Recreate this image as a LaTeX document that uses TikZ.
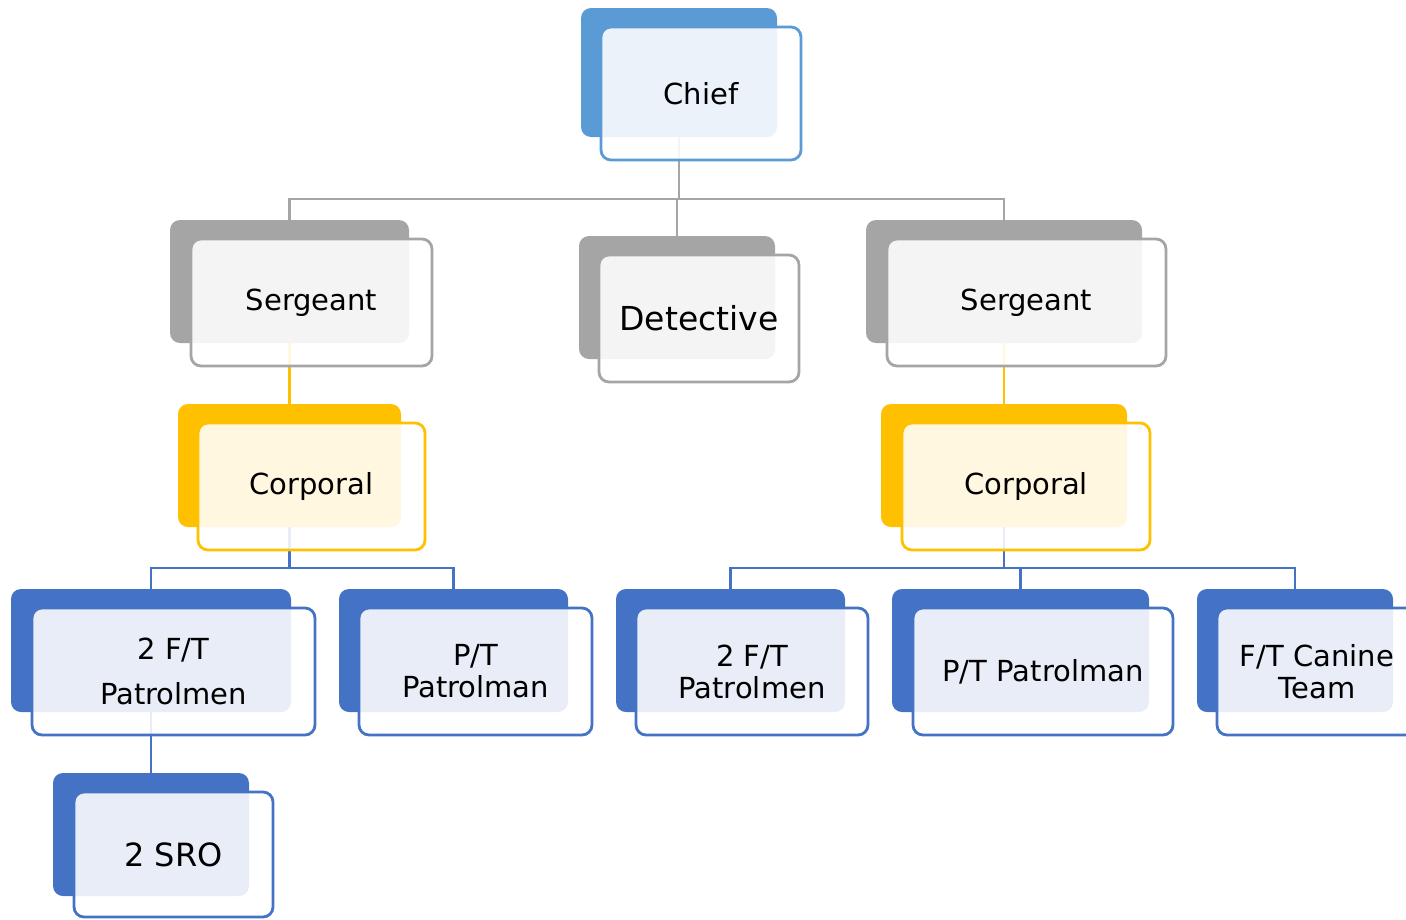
\documentclass[tikz,border=0pt]{standalone}
\usepackage{fontspec}
\setmainfont{DejaVu Sans}
\usetikzlibrary{backgrounds}
\definecolor{chiefblue}{HTML}{5B9BD5}
\definecolor{rankgray}{HTML}{A5A5A5}
\definecolor{rankgold}{HTML}{FFC000}
\definecolor{rankblue}{HTML}{4472C4}
\tikzset{
  rankback/.style={rounded corners=10pt, fill=#1, draw=none, inner sep=0pt},
  rankfront/.style={rounded corners=10pt, draw=#1, line width=2.8pt, fill=white,
    fill opacity=0.88, text opacity=1, inner sep=0pt, align=center,
    font=\fontsize{29}{32}\selectfont},
  link/.style={draw=#1, line width=2.8pt},
}

\begin{document}
\begin{tikzpicture}[x=1pt, y=-1pt]
      \useasboundingbox (0,0) rectangle (1406,919);
      % Chief
      \node[rankback=chiefblue, minimum width=196, minimum height=129] (chiefB) at (679,72.5) {};
      \node[rankfront=chiefblue, minimum width=200, minimum height=133] (chief) at (701,93.5) {Chief};
      % Sergeants and detective
      \node[rankback=rankgray, minimum width=239, minimum height=123] (serLB) at (289.5,281.5) {};
      \node[rankfront=rankgray, minimum width=241, minimum height=127] (serL) at (311.5,302.5) {Sergeant};
      \node[rankback=rankgray, minimum width=196, minimum height=123] (detB) at (677,297.5) {};
      \node[rankfront=rankgray, minimum width=200, minimum height=127, font=\fontsize{33}{36}\selectfont] (det) at (699,318.5) {Detective};
      \node[rankback=rankgray, minimum width=276, minimum height=123] (serRB) at (1004,281.5) {};
      \node[rankfront=rankgray, minimum width=279, minimum height=127] (serR) at (1026.5,302.5) {Sergeant};
      % Corporals
      \node[rankback=rankgold, minimum width=223, minimum height=123] (corLB) at (289.5,465.5) {};
      \node[rankfront=rankgold, minimum width=227, minimum height=127] (corL) at (311.5,486.5) {Corporal};
      \node[rankback=rankgold, minimum width=246, minimum height=123] (corRB) at (1004,465.5) {};
      \node[rankfront=rankgold, minimum width=248, minimum height=127] (corR) at (1026,486.5) {Corporal};
      % Patrol row
      \node[rankback=rankblue, minimum width=280, minimum height=123] (ftLB) at (151,650.5) {};
      \node[rankfront=rankblue, minimum width=283, minimum height=127] (ftL) at (173.5,671.5) {2 F/T\\[13pt]Patrolmen};
      \node[rankback=rankblue, minimum width=229, minimum height=123] (ptLB) at (453.5,650.5) {};
      \node[rankfront=rankblue, minimum width=233, minimum height=127] (ptL) at (475.5,671.5) {P/T\\Patrolman};
      \node[rankback=rankblue, minimum width=229, minimum height=123] (ftRB) at (730.5,650.5) {};
      \node[rankfront=rankblue, minimum width=232, minimum height=127] (ftR) at (752,671.5) {2 F/T\\Patrolmen};
      \node[rankback=rankblue, minimum width=257, minimum height=123] (ptRB) at (1020.5,650.5) {};
      \node[rankfront=rankblue, minimum width=260, minimum height=127] (ptR) at (1043,671.5) {P/T Patrolman};
      \node[rankback=rankblue, minimum width=196, minimum height=123] (canB) at (1295,650.5) {};
      \node[rankfront=rankblue, minimum width=200, minimum height=127] (can) at (1317,671.5) {F/T Canine\\Team};
      % School resource officers
      \node[rankback=rankblue, minimum width=196, minimum height=123] (sroB) at (151,834.5) {};
      \node[rankfront=rankblue, minimum width=199, minimum height=125, font=\fontsize{32}{36}\selectfont] (sro) at (173.5,854.5) {2 SRO};
      % Connectors (under the boxes)
      \coordinate (gbus) at (0,199);
      \coordinate (bbus) at (0,568);
      \begin{pgfonlayer}{background}
        \draw[link=rankgray] (chiefB.south) -- (chiefB.south |- gbus) -| (serLB.north);
        \draw[link=rankgray] (chiefB.south |- gbus) -| (serRB.north);
        \draw[link=rankgray] (detB.north |- gbus) -- (detB.north);
        \draw[link=rankgold] (serLB.south) -- (corLB.north);
        \draw[link=rankgold] (serRB.south) -- (corRB.north);
        \draw[link=rankblue] (corLB.south) -- (corLB.south |- bbus) -| (ftLB.north);
        \draw[link=rankblue] (corLB.south |- bbus) -| (ptLB.north);
        \draw[link=rankblue] (corRB.south) -- (corRB.south |- bbus) -| (ftRB.north);
        \draw[link=rankblue] (corRB.south |- bbus) -| (ptRB.north);
        \draw[link=rankblue] (corRB.south |- bbus) -| (canB.north);
        \draw[link=rankblue] (ftLB.south) -- (sroB.north);
      \end{pgfonlayer}
\end{tikzpicture}
\end{document}
